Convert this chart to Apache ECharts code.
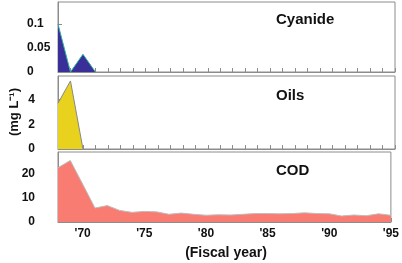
<!DOCTYPE html>
<html><head><meta charset="utf-8">
<script src="https://cdn.jsdelivr.net/npm/echarts@6/dist/echarts.min.js"></script>
<style>html,body{margin:0;padding:0;background:#fff}#c{width:402px;height:263px}</style>
</head><body><div id="c"></div>
<script>
const years = [1968,1969,1970,1971,1972,1973,1974,1975,1976,1977,1978,1979,1980,1981,1982,1983,1984,1985,1986,1987,1988,1989,1990,1991,1992,1993,1994,1995];
const cyanide = [0.1,0,0.037,0];
const oils = [3.7,5.5,0];
const cod = [22.5,25.5,15.7,5.8,6.8,4.8,4.0,4.4,4.2,3.2,3.7,3.2,2.8,3.0,2.9,3.2,3.5,3.5,3.4,3.5,3.8,3.5,3.4,2.5,2.9,2.6,3.4,2.8];
const panelNames = ['Cyanide','Oils','COD'];
const yTicksMax = [0.146, 5.9, 29];
const yIntervals = [0.05, 2, 10];

const pair = (vals) => vals.map((v,i)=>[years[i], v]);
const gray = '#8c8c8c';
const font = 'Liberation Sans, Arial, sans-serif';
const grids = [
  {left:58, right:7, top:2, height:70},
  {left:58, right:7, top:76, height:73},
  {left:58, right:7, top:152, height:70}
].map(g=>Object.assign({show:true, borderColor:gray, borderWidth:1}, g));

const xAxes = [0,1,2].map(i=>({
  type:'value', gridIndex:i, min:1968, max:1995, interval:1,
  axisLine:{show:true, lineStyle:{color:gray}},
  axisTick:{show:true, inside:true, length:4, lineStyle:{color:gray}},
  splitLine:{show:false},
  axisLabel:{show:i===2, fontFamily:font, fontWeight:'bold', fontSize:12, color:'#111', margin:6,
    formatter:v=> (v%5===0) ? "'" + String(v).slice(2) : ''}
}));
const yAxes = [0,1,2].map(i=>({
  type:'value', gridIndex:i, min:0, max:yTicksMax[i], interval:yIntervals[i],
  axisLine:{show:true, lineStyle:{color:gray}},
  axisTick:{show:true, inside:true, length:4, lineStyle:{color:gray}},
  splitLine:{show:false},
  axisLabel:{showMaxLabel:false, fontFamily:font, fontWeight:'bold', fontSize:12, color:'#111',
    align: i===0 ? 'left' : 'right', margin: i===0 ? 31 : 23}
}));
const colors = ['#3a2e98','#e8d21e','#f87c72'];
const lineColors = ['#2fb39a','#888888','#bdbdbd'];
const datas = [cyanide, oils, cod];
const series = [0,1,2].map(i=>({
  type:'line', xAxisIndex:i, yAxisIndex:i, data:pair(datas[i]), symbol:'none', silent:true,
  lineStyle:{color:lineColors[i], width:1},
  areaStyle:{color:colors[i], opacity:1}
}));
const labelY = [20, 96, 171];
const graphic = panelNames.map((n,i)=>({type:'text', left:276, top:labelY[i]-8,
  style:{text:n, font:'bold 15px '+font, fill:'#111'}}));
graphic.push({type:'text', x:14, y:112, rotation:Math.PI/2,
  style:{text:'(mg L\u207B\u00B9)', font:'bold 13px '+font, fill:'#111', align:'center', verticalAlign:'middle'}});
graphic.push({type:'text', x:226, y:253,
  style:{text:'(Fiscal year)', font:'bold 14px '+font, fill:'#111', align:'center', verticalAlign:'middle'}});

const chart = echarts.init(document.getElementById('c'), null, {renderer:'canvas'});
chart.setOption({animation:false, grid:grids, xAxis:xAxes, yAxis:yAxes, series, graphic});
</script></body></html>
